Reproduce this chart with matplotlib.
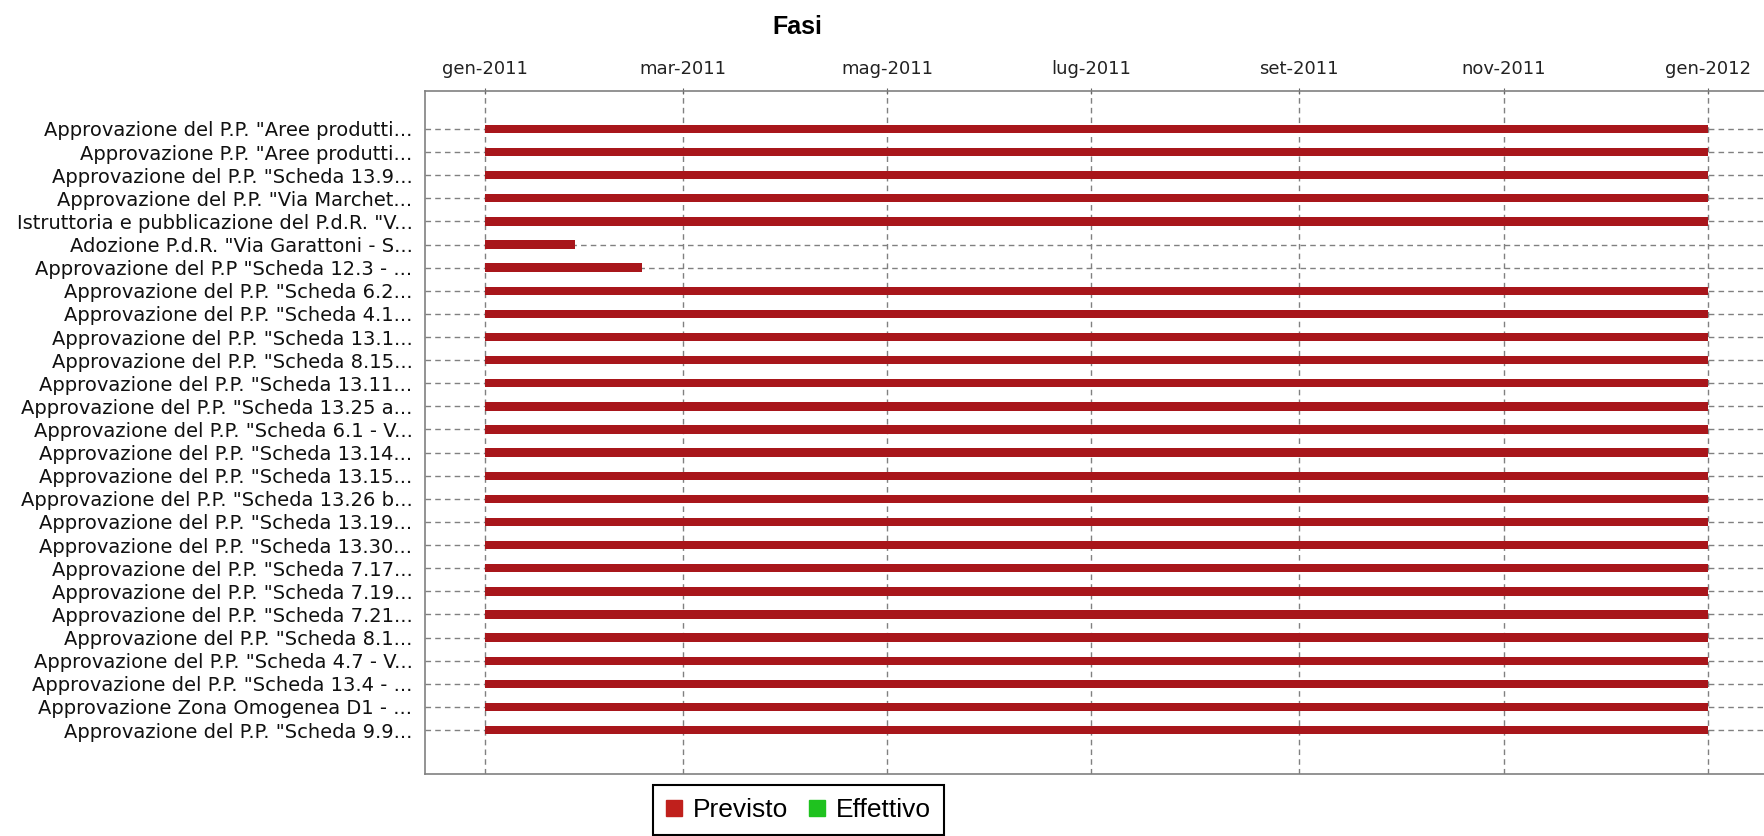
import datetime as dt
import matplotlib
matplotlib.use("Agg")
import matplotlib.pyplot as plt
import matplotlib.dates as mdates
from matplotlib.patches import Patch

# phases (top to bottom) with planned start / end dates
labels = [
    'Approvazione del P.P. "Aree produtti...',
    'Approvazione P.P. "Aree produtti...',
    'Approvazione del P.P. "Scheda 13.9...',
    'Approvazione del P.P. "Via Marchet...',
    'Istruttoria e pubblicazione del P.d.R. "V...',
    'Adozione P.d.R. "Via Garattoni - S...',
    'Approvazione del P.P "Scheda 12.3 - ...',
    'Approvazione del P.P. "Scheda 6.2...',
    'Approvazione del P.P. "Scheda 4.1...',
    'Approvazione del P.P. "Scheda 13.1...',
    'Approvazione del P.P. "Scheda 8.15...',
    'Approvazione del P.P. "Scheda 13.11...',
    'Approvazione del P.P. "Scheda 13.25 a...',
    'Approvazione del P.P. "Scheda 6.1 - V...',
    'Approvazione del P.P. "Scheda 13.14...',
    'Approvazione del P.P. "Scheda 13.15...',
    'Approvazione del P.P. "Scheda 13.26 b...',
    'Approvazione del P.P. "Scheda 13.19...',
    'Approvazione del P.P. "Scheda 13.30...',
    'Approvazione del P.P. "Scheda 7.17...',
    'Approvazione del P.P. "Scheda 7.19...',
    'Approvazione del P.P. "Scheda 7.21...',
    'Approvazione del P.P. "Scheda 8.1...',
    'Approvazione del P.P. "Scheda 4.7 - V...',
    'Approvazione del P.P. "Scheda 13.4 - ...',
    'Approvazione Zona Omogenea D1 - ...',
    'Approvazione del P.P. "Scheda 9.9...',
]
start_dates = ["2011-01-01"] * 27
end_dates = ["2012-01-01"] * 5 + ["2011-01-28", "2011-02-17"] + ["2012-01-01"] * 20

tick_dates = ["2011-01-01", "2011-03-01", "2011-05-01", "2011-07-01",
              "2011-09-01", "2011-11-01", "2012-01-01"]
tick_labels = ["gen-2011", "mar-2011", "mag-2011", "lug-2011",
               "set-2011", "nov-2011", "gen-2012"]
legend_labels = ["Previsto", "Effettivo"]
legend_colors = ["#c0201c", "#1fc21f"]


def to_num(s):
    return mdates.date2num(dt.datetime.strptime(s, "%Y-%m-%d"))


W, H = 1765, 836
fig = plt.figure(figsize=(W / 100, H / 100), dpi=100)
ax = fig.add_axes([425 / W, 1 - 774 / H, 1 - 425 / W, (774 - 91) / H])

starts = [to_num(s) for s in start_dates]
ends = [to_num(e) for e in end_dates]
ypos = list(range(len(labels)))
widths = [e - s for s, e in zip(starts, ends)]

ax.barh(ypos, widths, left=starts, height=0.36, color="#a8161b", zorder=3)

ax.set_ylim(len(labels) - 1 + 1.9, -1.64)
ax.set_xlim(to_num("2011-01-01") - 17.9, to_num("2012-01-01") + 17.0)

ax.xaxis.tick_top()
ax.set_xticks([to_num(d) for d in tick_dates])
ax.set_xticklabels(tick_labels, fontsize=13, family="DejaVu Sans", color="#222222")
ax.tick_params(axis="x", length=4, direction="inout", color="#666666", pad=7)

ax.set_yticks(ypos)
ax.set_yticklabels(labels, fontsize=14, family="DejaVu Sans", color="#111111")
ax.tick_params(axis="y", length=0, pad=9)

ax.grid(True, color="#808080", linestyle=(0, (4, 3)), linewidth=1, zorder=1)
ax.set_axisbelow(True)

for side in ["top", "left", "bottom"]:
    ax.spines[side].set_color("#808080")
    ax.spines[side].set_linewidth(1.2)
ax.spines["right"].set_visible(False)

fig.text(797 / W, 1 - 27 / H, "Fasi", ha="center", va="center",
         fontsize=18, fontweight="bold", family="Liberation Sans")

handles = [Patch(facecolor=c, edgecolor=c) for c in legend_colors]
leg = fig.legend(handles, legend_labels, loc="upper center",
                 bbox_to_anchor=(798.5 / W, 1 - 785 / H), ncol=2,
                 prop={"family": "Liberation Sans", "size": 19},
                 fancybox=False, edgecolor="black", framealpha=1,
                 handlelength=0.6, handleheight=0.6, handletextpad=0.4,
                 columnspacing=0.8, borderpad=0.5, borderaxespad=0)
leg.get_frame().set_linewidth(1.5)

fig.savefig("out.png", dpi=100)
